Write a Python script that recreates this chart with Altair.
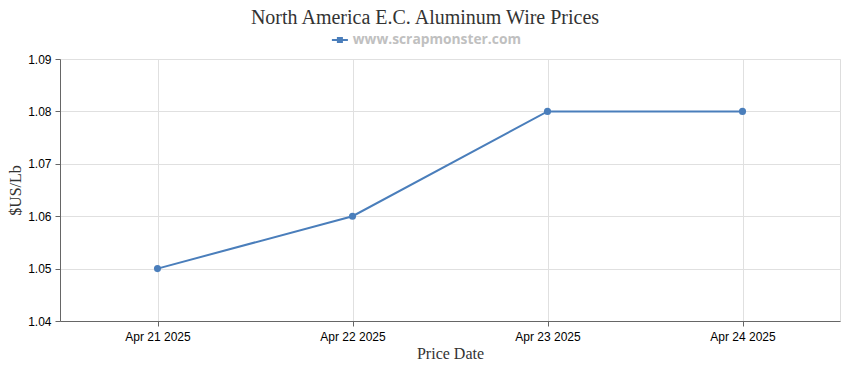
import altair as alt
import pandas as pd

dates = ["Apr 21 2025", "Apr 22 2025", "Apr 23 2025", "Apr 24 2025"]
prices = [1.05, 1.06, 1.08, 1.08]
series = ["www.scrapmonster.com"] * 4
y_ticks = [1.04, 1.05, 1.06, 1.07, 1.08, 1.09]

df = pd.DataFrame({"date": dates, "price": prices, "series": series})

color = alt.Color(
    "series:N",
    scale=alt.Scale(range=["#4a7ebb"]),
    legend=alt.Legend(
        title=None,
        orient="none",
        legendX=273,
        legendY=-26,
        symbolType="M-1.6,-0.2L1.6,-0.2L1.6,0.2L-1.6,0.2Z M-0.6,-0.6L0.6,-0.6L0.6,0.6L-0.6,0.6Z",
        symbolSize=100,
        symbolFillColor="#4a7ebb",
        symbolStrokeWidth=0,
        labelFont="Open Sans",
        labelFontSize=13.8,
        labelFontWeight="bold",
        labelColor="#c0c0c0",
        labelOffset=6,
        labelLimit=400,
    ),
)

x = alt.X(
    "date:O",
    sort=dates,
    scale=alt.Scale(paddingOuter=0.5, paddingInner=0),
    axis=alt.Axis(
        title="Price Date",
        labelAngle=0,
        labelFont="Liberation Sans",
        labelFontSize=12,
        labelColor="#000",
        labelPadding=5,
        titleFont="Liberation Serif",
        titleFontSize=16,
        titleFontWeight="normal",
        titleColor="#333",
        titlePadding=3,
        grid=True,
        gridColor="#e0e0e0",
        domainColor="#666",
        tickColor="#666",
        tickSize=5,
    ),
)

y = alt.Y(
    "price:Q",
    scale=alt.Scale(domain=[1.04, 1.09], nice=False, zero=False),
    axis=alt.Axis(
        title="$US/Lb",
        values=y_ticks,
        format=".2f",
        labelFont="Liberation Sans",
        labelFontSize=12,
        labelColor="#000",
        labelPadding=4,
        titleFont="Liberation Serif",
        titleFontSize=16,
        titleFontWeight="normal",
        titleColor="#333",
        titlePadding=4,
        gridColor="#e0e0e0",
        domainColor="#666",
        tickColor="#666",
        tickSize=5,
    ),
)

line = alt.Chart(df).mark_line(strokeWidth=2).encode(x=x, y=y, color=color)
points = alt.Chart(df).mark_circle(size=50, opacity=1).encode(x=x, y=y, color=alt.Color("series:N", scale=alt.Scale(range=["#4a7ebb"]), legend=None))

chart = (
    alt.layer(line, points)
    .properties(
        width=780,
        height=262,
        padding={"left": 52, "top": 51, "right": 2, "bottom": 41},
        autosize=alt.AutoSizeParams(type="none"),
        title=alt.TitleParams(
            text="North America E.C. Aluminum Wire Prices",
            font="Liberation Serif",
            fontSize=20,
            fontWeight="normal",
            color="#333",
            anchor="middle",
            dx=-25,
            offset=5,
        ),
    )
    .configure_view(stroke=None)
    .configure(background="white")
)

chart.save("out.html", embed_options={"renderer": "svg", "actions": False})
